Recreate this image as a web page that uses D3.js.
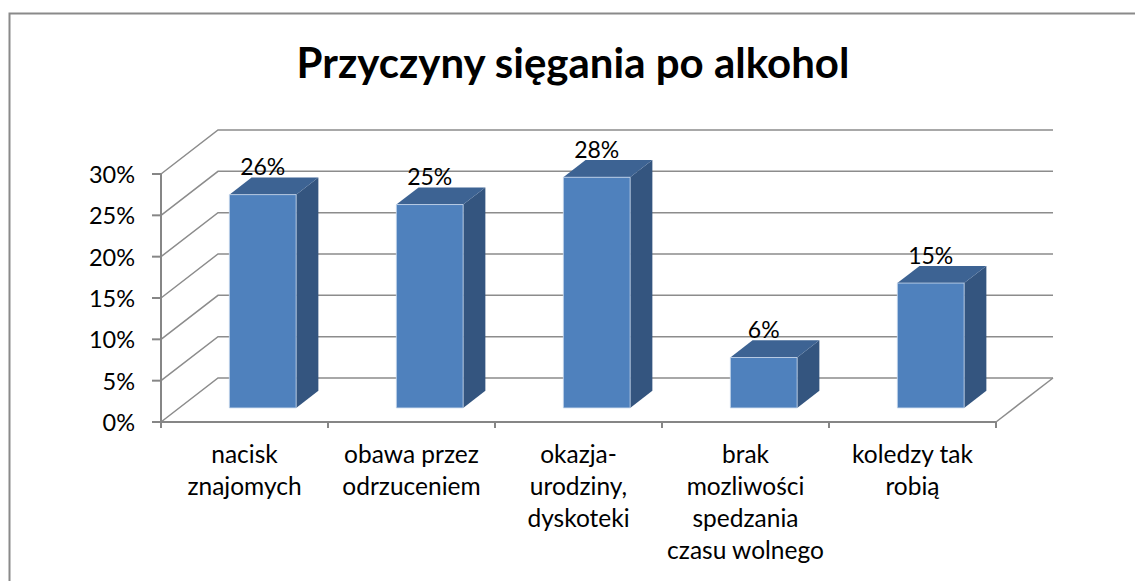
<!DOCTYPE html>
<html>
  <head>
    <meta charset="utf-8">
    <title>Przyczyny sięgania po alkohol</title>
    <style>
      body { margin: 0; background: #fff; }
      text { font-family: Lato, "Open Sans", sans-serif; fill: #000; }
    </style>
  </head>
  <body>
    <script src="https://cdn.jsdelivr.net/npm/d3@7/dist/d3.min.js" charset="utf-8"></script>
    <script type="text/javascript">
      var title = "Przyczyny sięgania po alkohol";
      var categories = [
        "nacisk\nznajomych",
        "obawa przez\nodrzuceniem",
        "okazja-\nurodziny,\ndyskoteki",
        "brak\nmozliwości\nspedzania\nczasu wolnego",
        "koledzy tak\nrobią"
      ];
      var values = [0.258, 0.246, 0.279, 0.061, 0.151];
      var yTicks = [0, 0.05, 0.10, 0.15, 0.20, 0.25, 0.30];

      var width = 1135;
      var height = 581;
      var depthX = 57, depthY = -44;   // oblique offset of the back wall

      var svg = d3.select("body")
                  .append("svg")
                  .attr("width", width)
                  .attr("height", height);

      // chart frame (cut off at right and bottom)
      svg.append("rect")
         .attr("x", 9.5).attr("y", 13.5)
         .attr("width", 1200).attr("height", 700)
         .attr("fill", "none")
         .attr("stroke", "#8a8a8a")
         .attr("stroke-width", 2);

      svg.append("text")
         .attr("x", 573).attr("y", 78)
         .attr("text-anchor", "middle")
         .style("font-size", "42px")
         .style("font-weight", "bold")
         .text(title);

      var x = d3.scaleBand().domain(categories).range([161, 996]);
      var y = d3.scaleLinear().domain([0, 0.30]).range([422, 174]);

      function proj(px, py, z) { return [px + z * depthX, py + z * depthY]; }
      var line = d3.line();

      // walls: side wall diagonals + back wall horizontals
      var grid = svg.append("g")
                    .attr("fill", "none")
                    .attr("stroke", "#8c8c8c")
                    .attr("stroke-width", 1.5);

      grid.selectAll("path.grid")
          .data(yTicks)
          .enter()
          .append("path")
          .attr("class", "grid")
          .attr("d", function(t) {
            return line([proj(x.range()[0], y(t), 0),
                         proj(x.range()[0], y(t), 1),
                         proj(x.range()[1], y(t), 1)]);
          });

      // floor right edge
      grid.append("path")
          .attr("d", line([proj(x.range()[1], y(0), 0), proj(x.range()[1], y(0), 1)]));

      // front axes
      var axes = svg.append("g")
                    .attr("fill", "none")
                    .attr("stroke", "#868686")
                    .attr("stroke-width", 2);
      axes.append("path")
          .attr("d", line([[x.range()[0], y(0.30)], [x.range()[0], y(0)], [x.range()[1], y(0)]]));

      axes.selectAll("line.ytick")
          .data(yTicks)
          .enter()
          .append("line")
          .attr("class", "ytick")
          .attr("x1", x.range()[0] - 9).attr("x2", x.range()[0])
          .attr("y1", function(t) { return y(t); })
          .attr("y2", function(t) { return y(t); });

      var bounds = categories.map(function(c) { return x(c); }).concat([x.range()[1]]);
      axes.selectAll("line.xtick")
          .data(bounds)
          .enter()
          .append("line")
          .attr("class", "xtick")
          .attr("x1", function(b) { return b; })
          .attr("x2", function(b) { return b; })
          .attr("y1", y(0)).attr("y2", y(0) + 6);

      // y tick labels
      svg.selectAll("text.ylab")
         .data(yTicks)
         .enter()
         .append("text")
         .attr("class", "ylab")
         .attr("x", x.range()[0] - 26)
         .attr("y", function(t) { return y(t) + 9; })
         .attr("text-anchor", "end")
         .style("font-size", "23.5px")
         .text(d3.format(".0%"));

      // category labels
      var catLab = svg.selectAll("text.xlab")
         .data(categories)
         .enter()
         .append("text")
         .attr("class", "xlab")
         .attr("text-anchor", "middle")
         .style("font-size", "24.5px");
      catLab.selectAll("tspan")
         .data(function(c) {
           return c.split("\n").map(function(s) { return { c: c, s: s }; });
         })
         .enter()
         .append("tspan")
         .attr("x", function(d) { return x(d.c) + x.bandwidth() / 2; })
         .attr("y", function(d, i) { return 463 + i * 32; })
         .text(function(d) { return d.s; });

      // 3d bars
      var zFront = 0.32, zBack = 0.71;
      var barW = x.bandwidth() * 0.4;
      var bars = svg.selectAll("g.bar")
                    .data(values)
                    .enter()
                    .append("g")
                    .attr("class", "bar");

      function faceX(i) { return x(categories[i]) + (x.bandwidth() - barW) / 2; }

      bars.append("path")   // side
          .attr("fill", "#34557f")
          .attr("d", function(v, i) {
            var xr = faceX(i) + barW;
            return line([proj(xr, y(0), zFront), proj(xr, y(0), zBack),
                         proj(xr, y(v), zBack), proj(xr, y(v), zFront)]) + "Z";
          });
      bars.append("path")   // top
          .attr("fill", "#3d6393")
          .attr("d", function(v, i) {
            var xl = faceX(i), xr = xl + barW;
            return line([proj(xl, y(v), zFront), proj(xl, y(v), zBack),
                         proj(xr, y(v), zBack), proj(xr, y(v), zFront)]) + "Z";
          });
      bars.append("path")   // front
          .attr("fill", "#4f81bd")
          .attr("stroke", "#c9d8ec")
          .attr("stroke-width", 0.8)
          .attr("d", function(v, i) {
            var xl = faceX(i), xr = xl + barW;
            return line([proj(xl, y(0), zFront), proj(xl, y(v), zFront),
                         proj(xr, y(v), zFront), proj(xr, y(0), zFront)]) + "Z";
          });

      // value labels
      svg.selectAll("text.val")
         .data(values)
         .enter()
         .append("text")
         .attr("class", "val")
         .attr("x", function(v, i) { return proj(faceX(i) + barW / 2, 0, zFront)[0]; })
         .attr("y", function(v) { return proj(0, y(v), zBack)[1] - 2; })
         .attr("text-anchor", "middle")
         .style("font-size", "23px")
         .text(d3.format(".0%"));
    </script>
  </body>
</html>
